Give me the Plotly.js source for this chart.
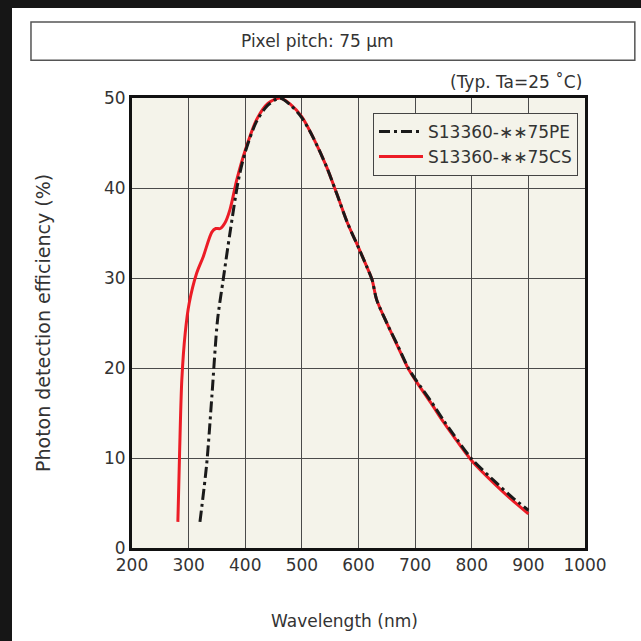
<!DOCTYPE html>
<html>
<head>
<meta charset="utf-8">
<script src="https://cdn.plot.ly/plotly-3.0.1.min.js"></script>
<style>
  html, body { margin: 0; padding: 0; background: #161616; width: 641px; height: 641px; overflow: hidden; }
  #chart { position: absolute; left: 12px; top: 8px; width: 629px; height: 633px; background: #ffffff; }
</style>
</head>
<body>
<div id="chart"></div>
<script>
// Data
const peWavelength = [320, 332, 341, 351, 361, 373, 388, 400, 420, 440, 461, 480, 500, 520, 544, 562, 580, 602, 615, 624, 632, 650, 670, 688, 701, 727, 750, 768, 800, 844, 870, 900];
const pePde        = [2.9, 9.4, 16.8, 25.3, 29.8, 35.0, 40.9, 44.0, 47.4, 49.2, 50.0, 49.2, 47.8, 45.6, 42.3, 39.3, 36.2, 33.1, 31.2, 29.8, 27.6, 25.0, 22.4, 20.0, 18.7, 16.4, 14.2, 12.6, 9.9, 7.2, 5.7, 4.2];

const csWavelength = [281, 284, 288, 294, 301, 314, 326, 341, 348, 356, 364, 373, 385, 400, 420, 440, 461, 480, 500, 520, 544, 562, 580, 602, 615, 624, 632, 650, 670, 688, 701, 727, 750, 768, 800, 844, 870, 900];
const csPde        = [2.9, 10.5, 18.7, 23.9, 27.2, 30.5, 32.4, 35.1, 35.5, 35.5, 36.1, 37.6, 40.9, 44.2, 47.6, 49.4, 50.0, 49.3, 47.9, 45.6, 42.3, 39.3, 36.2, 33.1, 31.2, 29.8, 27.6, 25.0, 22.3, 19.9, 18.6, 16.2, 14.0, 12.4, 9.7, 6.9, 5.4, 3.8];

const seriesNames = ['S13360-\u2217\u221775PE', 'S13360-\u2217\u221775CS'];
const xTicks = [200, 300, 400, 500, 600, 700, 800, 900, 1000];
const yTicks = [0, 10, 20, 30, 40, 50];

const FONT = 'DejaVu Sans, Verdana, sans-serif';
const TXT = '#333333';

const traces = [
  {
    x: csWavelength, y: csPde, name: seriesNames[1], mode: 'lines',
    line: { color: '#ec1c26', width: 3, shape: 'spline', smoothing: 0.8 }
  },
  {
    x: peWavelength, y: pePde, name: seriesNames[0], mode: 'lines',
    line: { color: '#1a1a1a', width: 3, dash: '11px,4px,3px,4px', shape: 'spline', smoothing: 0.8 }
  }
];

const layout = {
  width: 629, height: 633,
  margin: { l: 120, r: 56, t: 90, b: 93 },
  paper_bgcolor: '#ffffff',
  plot_bgcolor: '#f4f3ea',
  font: { family: FONT, size: 17, color: TXT },
  showlegend: true,
  legend: {
    x: 0.532, y: 0.967, xanchor: 'left', yanchor: 'top',
    bgcolor: '#f4f3ea', bordercolor: '#444444', borderwidth: 1,
    traceorder: 'reversed', itemwidth: 44,
    font: { family: FONT, size: 17, color: TXT },
    tracegroupgap: 0
  },
  xaxis: {
    range: [200, 1000], tickvals: xTicks, ticktext: xTicks.map(String),
    showgrid: true, gridcolor: '#4a4a4a', gridwidth: 1,
    showline: true, linecolor: '#111111', linewidth: 3, mirror: true,
    ticks: '', zeroline: false, fixedrange: true,
    tickfont: { family: FONT, size: 17, color: TXT }
  },
  yaxis: {
    range: [0, 50], tickvals: yTicks, ticktext: yTicks.map(String),
    showgrid: true, gridcolor: '#4a4a4a', gridwidth: 1,
    showline: true, linecolor: '#111111', linewidth: 3, mirror: true,
    ticks: '', zeroline: false, fixedrange: true,
    tickfont: { family: FONT, size: 17, color: TXT }
  },
  shapes: [
    {
      type: 'rect', xref: 'paper', yref: 'paper',
      x0: -0.223, x1: 1.110, y0: 1.084, y1: 1.169,
      line: { color: '#555555', width: 1.5 }, fillcolor: 'rgba(0,0,0,0)'
    }
  ],
  annotations: [
    {
      text: 'Pixel pitch: 75 \u00b5m', xref: 'paper', yref: 'paper',
      x: 0.41, y: 1.127, xanchor: 'center', yanchor: 'middle', showarrow: false,
      font: { family: FONT, size: 17, color: TXT }
    },
    {
      text: '(Typ. Ta=25 \u02daC)', xref: 'paper', yref: 'paper',
      x: 0.998, y: 1.036, xanchor: 'right', yanchor: 'middle', showarrow: false,
      font: { family: FONT, size: 17, color: TXT }
    },
    {
      text: 'Photon detection efficiency (%)', xref: 'paper', yref: 'paper',
      x: -0.1965, y: 0.5, xanchor: 'center', yanchor: 'middle', showarrow: false,
      textangle: -90,
      font: { family: FONT, size: 19, color: TXT }
    },
    {
      text: 'Wavelength (nm)', xref: 'paper', yref: 'paper',
      x: 0.47, y: -0.162, xanchor: 'center', yanchor: 'middle', showarrow: false,
      font: { family: FONT, size: 17, color: TXT }
    }
  ]
};

Plotly.newPlot('chart', traces, layout, { displayModeBar: false, staticPlot: true });
</script>
</body>
</html>
